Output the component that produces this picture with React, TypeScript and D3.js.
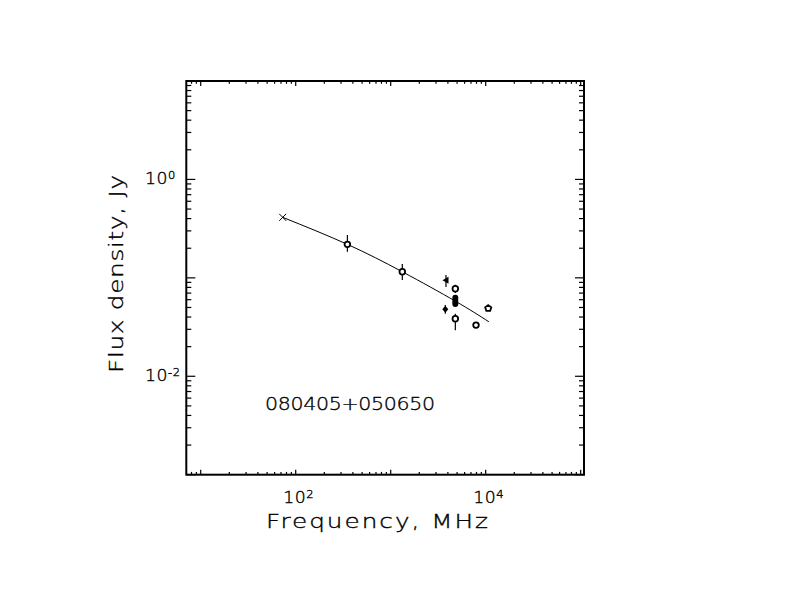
import React from "react";
import * as d3 from "d3";

// measured points (MHz, Jy)
const freq = [73, 350, 1325, 3820, 4790, 4790, 4790, 4790, 3760, 4790, 7910, 10640];
const flux = [0.412, 0.219, 0.1153, 0.0944, 0.0775, 0.0623, 0.0581, 0.0546, 0.0479, 0.0384, 0.0331, 0.049];
const fluxHi = [null, 0.272, 0.138, 0.107, 0.085, null, null, null, 0.053, 0.0432, null, null];
const fluxLo = [null, 0.184, 0.095, 0.0807, 0.07, null, null, null, 0.0432, 0.0293, null, null];
const symbol = ["cross", "open", "open", "tri", "open", "dot", "dot", "dot", "diamond", "open", "open", "pentagon"];

// fitted spectrum
const fitFreq = [73, 350, 1325, 4790, 10800];
const fitFlux = [0.412, 0.219, 0.1153, 0.058, 0.0358];

const xDomain = [7.05, 108400];
const yDomain = [0.001, 10];
const xTickLabels = [{v: 100, exp: "2"}, {v: 10000, exp: "4"}];
const yTickLabels = [{v: 1, exp: "0"}, {v: 0.01, exp: "-2"}];
const sourceName = "080405+050650";

const width = 792;
const height = 612;
const left = 186.3, right = 584, top = 81, bottom = 474.7;
const font = "'DejaVu Sans', sans-serif";
const wide = 1.3; // Hershey-like glyphs are wider than DejaVu

const Marker = ({kind, cx, cy}: {kind: string, cx: number, cy: number}) => {
    if (kind === "cross") {
        return <path d={`M${cx - 3.5},${cy - 3.5}L${cx + 3.5},${cy + 3.5}M${cx - 3.5},${cy + 3.5}L${cx + 3.5},${cy - 3.5}`} stroke="black" strokeWidth={1}/>;
    }
    if (kind === "open") {
        return <circle cx={cx} cy={cy} r={2.8} fill="white" stroke="black" strokeWidth={1.8}/>;
    }
    if (kind === "dot") {
        return <ellipse cx={cx} cy={cy} rx={3} ry={3.3} fill="black"/>;
    }
    if (kind === "tri") {
        return <path d={`M${cx - 3.5},${cy}L${cx + 2.5},${cy - 3.5}L${cx + 2.5},${cy + 3.5}Z`} fill="black"/>;
    }
    if (kind === "diamond") {
        return <path d={`M${cx},${cy - 3.5}L${cx + 3},${cy}L${cx},${cy + 3.5}L${cx - 3},${cy}Z`} fill="black"/>;
    }
    const pts = d3.range(5).map(i => {
        const a = -Math.PI / 2 + i * 2 * Math.PI / 5;
        return [cx + 3.2 * Math.cos(a), cy + 3.2 * Math.sin(a)];
    });
    return <polygon points={pts.map(p => p.join(",")).join(" ")} fill="white" stroke="black" strokeWidth={1.8}/>;
};

export default function App() {
    const x = d3.scaleLog().domain(xDomain).range([left, right]);
    const y = d3.scaleLog().domain(yDomain).range([bottom, top]);
    const isMajor = (v: number) => Math.abs(Math.log10(v) - Math.round(Math.log10(v))) < 1e-6;
    const xTicks = x.ticks();
    const yTicks = y.ticks();

    const fit = d3.line<number>()
        .x((d, i) => x(fitFreq[i]))
        .y(d => y(d))
        .curve(d3.curveNatural);

    return (
        <svg width={width} height={height} style={{position: "absolute", left: 0, top: 0, background: "white"}}>
            <rect width={width} height={height} fill="white"/>
            <g stroke="black" strokeWidth={1.2}>
                {xTicks.map((t, i) => {
                    const len = isMajor(t) ? 5 : 2.8;
                    return <g key={"x" + i}>
                        <line x1={x(t)} x2={x(t)} y1={bottom} y2={bottom - len}/>
                        <line x1={x(t)} x2={x(t)} y1={top} y2={top + len}/>
                    </g>;
                })}
                {yTicks.map((t, i) => {
                    const len = isMajor(t) ? 9 : 5;
                    return <g key={"y" + i}>
                        <line y1={y(t)} y2={y(t)} x1={left} x2={left + len}/>
                        <line y1={y(t)} y2={y(t)} x1={right} x2={right - len}/>
                    </g>;
                })}
            </g>
            <rect x={left} y={top} width={right - left} height={bottom - top} fill="none" stroke="black" strokeWidth={2}/>

            <path d={fit(fitFlux) as string} fill="none" stroke="black" strokeWidth={1}/>

            <g stroke="black" strokeWidth={1.2}>
                {freq.map((f, i) => fluxHi[i] == null ? null :
                    <line key={i} x1={x(f)} x2={x(f)} y1={y(fluxHi[i] as number)} y2={y(fluxLo[i] as number)}/>
                )}
            </g>
            {freq.map((f, i) => <Marker key={i} kind={symbol[i]} cx={x(f)} cy={y(flux[i])}/>)}

            <g fontFamily={font} fontWeight={200} fill="black" stroke="black" strokeWidth={0.35}>
                {xTickLabels.map((t, i) => (
                    <text key={i} transform={`translate(${x(t.v) + 3},503) scale(1.15,1)`} fontSize={15} textAnchor="middle" letterSpacing={0.5}>
                        10<tspan dy={-5} fontSize={10}>{t.exp}</tspan>
                    </text>
                ))}
                {yTickLabels.map((t, i) => (
                    <text key={i} transform={`translate(145,${y(t.v) + 5}) scale(1.15,1)`} fontSize={15} letterSpacing={0.5}>
                        10<tspan dy={-5} fontSize={10}>{t.exp}</tspan>
                    </text>
                ))}
                <text transform={`translate(377,528) scale(${wide},1)`} fontSize={19} textAnchor="middle" textLength={222 / wide} lengthAdjust="spacing">
                    Frequency, MHz
                </text>
                <text transform={`translate(123,274) rotate(-90) scale(${wide},1)`} fontSize={19} textAnchor="middle" textLength={198 / wide} lengthAdjust="spacing">
                    Flux density, Jy
                </text>
                <text transform={`translate(${left + 0.198 * (right - left)},${bottom - 0.164 * (bottom - top)}) scale(1.14,1)`} fontSize={18} textLength={170 / 1.14} lengthAdjust="spacing">
                    {sourceName}
                </text>
            </g>
        </svg>
    );
}
